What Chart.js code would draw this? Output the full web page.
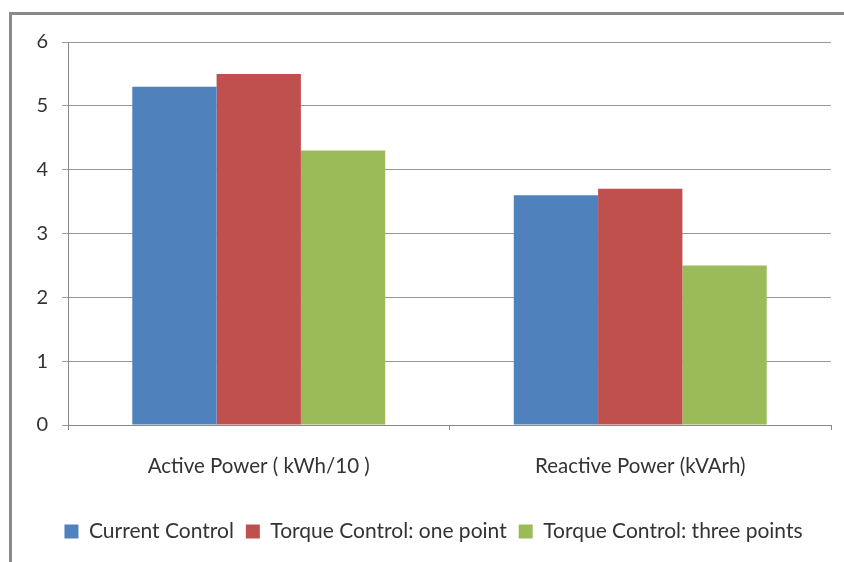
<!DOCTYPE html>
<html>
<head>
<meta charset="utf-8">
<script src="https://cdn.jsdelivr.net/npm/chart.js@4"></script>
<style>
html, body { margin: 0; padding: 0; background: #fff; }
</style>
</head>
<body>
<canvas id="barChart" width="844" height="562"></canvas>
<script>
const categories = ["Active Power ( kWh/10 )", "Reactive Power (kVArh)"];
const seriesNames = ["Current Control", "Torque Control: one point", "Torque Control: three points"];
const currentControl = [5.3, 3.6];
const torqueOnePoint = [5.5, 3.7];
const torqueThreePoints = [4.3, 2.5];
const yMin = 0, yMax = 6, yStep = 1;

const colors = ['#4F81BD', '#C0504D', '#9BBB59'];
const fontFamily = 'Lato, "Open Sans", sans-serif';

// grey frame round the picture, top and left only
const framePlugin = {
  id: 'frame',
  beforeDraw(chart) {
    const ctx = chart.ctx;
    ctx.save();
    ctx.strokeStyle = '#8a8a8a';
    ctx.lineWidth = 3;
    ctx.beginPath();
    ctx.moveTo(10.5, 562);
    ctx.lineTo(10.5, 13.5);
    ctx.lineTo(844, 13.5);
    ctx.stroke();
    ctx.restore();
  }
};

function makeSet(label, data, color) {
  return {
    label: label,
    data: data,
    backgroundColor: color,
    borderWidth: 0,
    barPercentage: 1.0,
    categoryPercentage: 0.663
  };
}

const ctx = document.getElementById('barChart');
const chart = new Chart(ctx, {
  type: 'bar',
  data: {
    labels: categories,
    datasets: [
      makeSet(seriesNames[0], currentControl, colors[0]),
      makeSet(seriesNames[1], torqueOnePoint, colors[1]),
      makeSet(seriesNames[2], torqueThreePoints, colors[2])
    ]
  },
  options: {
    responsive: false,
    animation: false,
    layout: { padding: { left: 36, top: 42, right: 13, bottom: 10 } },
    plugins: {
      tooltip: { enabled: false },
      legend: {
        position: 'bottom',
        labels: {
          boxWidth: 14,
          boxHeight: 14,
          padding: 12,
          color: '#333',
          font: { family: fontFamily, size: 21 }
        }
      }
    },
    scales: {
      x: {
        afterFit: function(s) { s.height = 84; },
        grid: { drawOnChartArea: false, tickLength: 5, color: '#888' },
        border: { color: '#888', width: 1 },
        ticks: { color: '#333', padding: 24, font: { family: fontFamily, size: 20.5 } }
      },
      y: {
        min: yMin,
        max: yMax,
        afterFit: function(s) { s.width = 32; },
        grid: { color: '#999', tickLength: 6 },
        border: { color: '#888', width: 1 },
        ticks: { stepSize: yStep, color: '#333', padding: 14, font: { family: fontFamily, size: 20 } }
      }
    }
  },
  plugins: [framePlugin]
});
</script>
</body>
</html>
